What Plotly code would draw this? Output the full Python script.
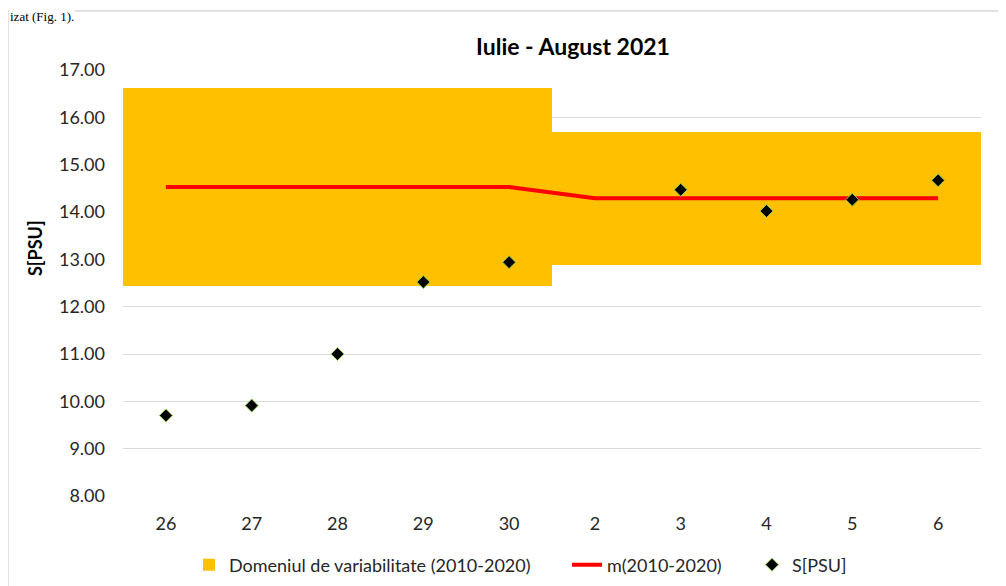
import plotly.graph_objects as go

# days: end of July, start of August 2021
days = ["26", "27", "28", "29", "30", "2", "3", "4", "5", "6"]
band_low = [12.44, 12.44, 12.44, 12.44, 12.44, 12.87, 12.87, 12.87, 12.87, 12.87]
band_high = [16.63, 16.63, 16.63, 16.63, 16.63, 15.68, 15.68, 15.68, 15.68, 15.68]
mean_10y = [14.53, 14.53, 14.53, 14.53, 14.53, 14.29, 14.29, 14.29, 14.29, 14.29]
salinity = [9.70, 9.91, 11.00, 12.52, 12.94, None, 14.47, 14.02, 14.26, 14.67]

# page body has an 8px margin, so the figure sits at (8, 8) on screen
OFF = 8
W, H = 1006 - OFF, 586 - OFF
L, R, T, B = 123 - OFF, 25, 70 - OFF, 90
pw = W - L - R
ph = H - T - B

# helpers: screen pixel -> paper coordinate
def px_x(p):
    return (p - OFF - L) / pw

def px_y(p):
    return (H - B - (p - OFF)) / ph

fnt = "Lato"

fig = go.Figure()
fig.add_trace(go.Bar(
    x=days, y=[h - l for h, l in zip(band_high, band_low)], base=band_low,
    width=1, marker=dict(color="#FFC000", line=dict(width=0)),
    name="Domeniul de variabilitate (2010-2020)", hoverinfo="skip", legend="legend",
))
fig.add_trace(go.Scatter(
    x=days, y=mean_10y, mode="lines", name="m(2010-2020)",
    line=dict(color="#FF0000", width=4), legend="legend2",
))
fig.add_trace(go.Scatter(
    x=days, y=salinity, mode="markers", name="S[PSU]",
    marker=dict(symbol="diamond", size=10, color="black",
                line=dict(color="#92D050", width=1)), legend="legend3",
))

# one legend per entry so each sits where Excel put it
def leg(text_x):
    return dict(orientation="h", x=px_x(text_x - 40), xanchor="left",
                y=px_y(565), yanchor="middle", font=dict(size=18),
                bgcolor="rgba(0,0,0,0)", borderwidth=0)

fig.update_layout(
    width=W, height=H,
    margin=dict(l=L, r=R, t=T, b=B, autoexpand=False),
    plot_bgcolor="white", paper_bgcolor="white",
    font=dict(family=fnt, size=18, color="#262626"),
    bargap=0,
    showlegend=True,
    legend=leg(229), legend2=leg(607), legend3=leg(792),
    title=dict(text="<b>Iulie - August 2021</b>", x=(573 - OFF) / W, xanchor="center",
               y=1 - (47 - OFF) / H, yanchor="middle", font=dict(size=23, color="#000")),
)
fig.update_xaxes(type="category", range=[-0.5, 9.5], showgrid=False,
                 showline=False, ticks="", ticklabelstandoff=15, automargin=False)
fig.update_yaxes(range=[8, 17], dtick=1, tickformat=".2f", showgrid=True,
                 gridcolor="#d9d9d9", gridwidth=1, zeroline=False,
                 showline=False, ticks="", ticklabelstandoff=17, automargin=False)

fig.add_annotation(text="<b>S[PSU]</b>", textangle=-90, xref="paper", yref="paper",
                   x=px_x(35), y=px_y(248), xanchor="center", yanchor="middle",
                   showarrow=False, font=dict(size=18, color="#000"))
# chart frame and the document text above it
fig.add_shape(type="rect", xref="paper", yref="paper",
              x0=px_x(8), x1=px_x(1100), y0=px_y(700), y1=px_y(11),
              line=dict(color="#d9d9d9", width=1.5), fillcolor="rgba(0,0,0,0)")
fig.add_annotation(text="izat (Fig. 1).", xref="paper", yref="paper",
                   x=px_x(9), y=px_y(8), xanchor="left", yanchor="top",
                   showarrow=False, bgcolor="white", borderpad=0,
                   font=dict(family="Liberation Serif", size=13, color="#000"))

fig.write_html("out.html")
